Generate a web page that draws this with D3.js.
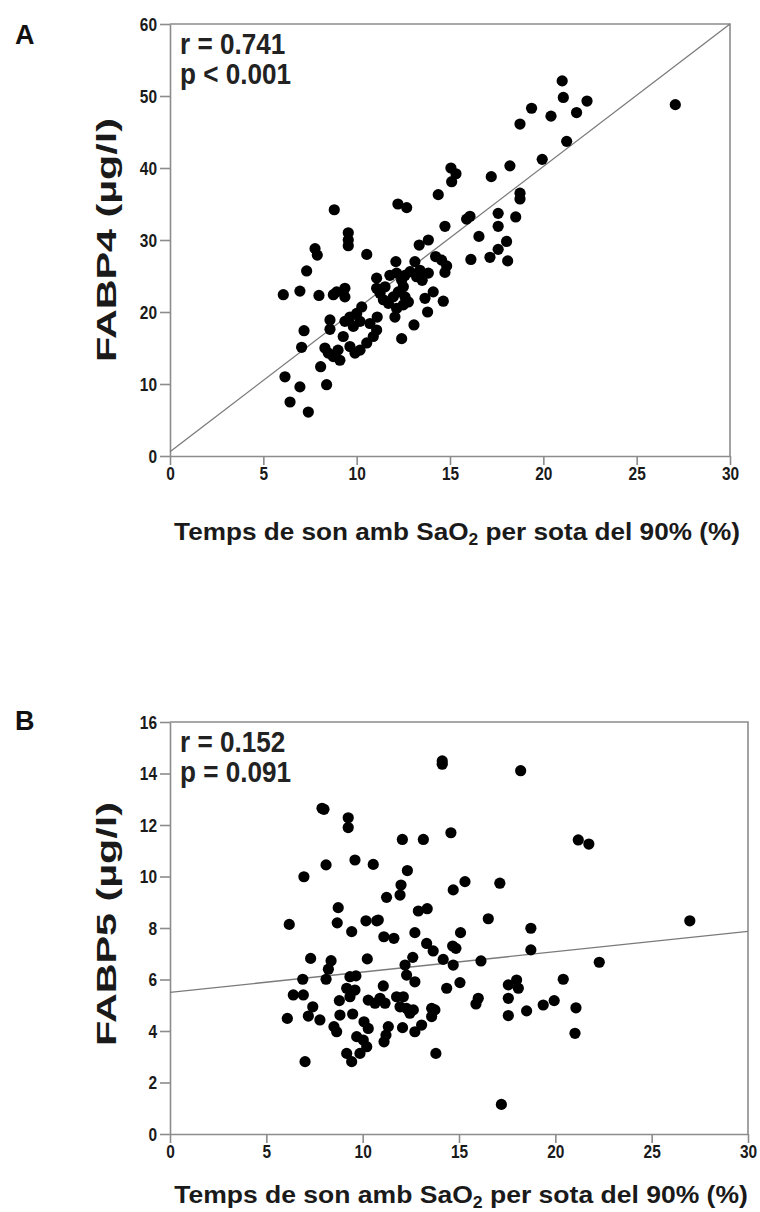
<!DOCTYPE html>
<html>
<head>
<meta charset="utf-8">
<script src="https://cdn.jsdelivr.net/npm/d3@7"></script>
<style>
  html, body { margin: 0; padding: 0; background: #fff; }
  svg { display: block; }
</style>
</head>
<body>
<svg id="chart" width="760" height="1212"></svg>
<script>
// Time of sleep with SaO2 below 90% (%) vs FABP4 (panel A)
const fabp4X = [21.01,21.07,22.34,19.37,20.41,21.78,18.75,27.07,21.25,19.94,18.21,17.21,15.05,15.32,15.09,14.37,18.75,18.75,12.21,12.68,17.58,18.52,16.07,15.89,14.73,17.58,16.55,18.03,13.84,13.35,17.58,16.12,17.14,18.09,14.23,14.55,14.82,14.73,13.12,13.39,13.51,14.1,13.66,14.64,13.8,13.07,12.41,6.07,6.96,7.32,7.77,7.89,9.55,9.55,9.55,10.54,7.98,8.75,8.93,9.37,9.37,8.57,8.57,7.18,7.05,6.16,6.96,6.43,7.41,8.07,8.39,8.8,8.3,8.48,8.75,9.1,9.0,9.28,9.64,9.91,10.18,10.54,10.89,11.07,10.71,10.18,9.82,9.37,9.64,10.0,10.27,11.07,11.78,12.14,12.41,12.59,12.86,13.21,11.07,11.25,11.52,11.43,11.7,11.96,12.23,12.5,12.59,12.77,12.5,12.14,12.05,12.1,11.1,13.84];
const fabp4Y = [52.1,49.8,49.3,48.3,47.2,47.7,46.1,48.8,43.7,41.2,40.3,38.8,40.0,39.2,38.1,36.3,36.5,35.7,35.0,34.5,33.7,33.2,33.3,32.9,31.9,31.9,30.5,29.8,30.0,29.3,28.7,27.3,27.6,27.1,27.7,27.2,26.4,25.5,27.0,25.8,24.4,22.8,21.9,21.5,20.0,18.2,16.3,22.4,22.9,25.7,28.8,27.9,31.0,30.0,29.2,28.0,22.3,22.4,22.8,23.3,22.1,18.9,17.6,17.4,15.1,11.0,9.6,7.5,6.1,12.4,9.9,34.2,15.0,14.3,13.8,13.3,14.7,16.6,15.2,14.3,14.7,15.7,16.6,17.5,18.4,18.7,18.0,18.7,19.3,19.8,20.7,24.7,25.1,25.4,24.4,25.1,25.6,24.9,23.3,22.6,23.5,21.7,21.2,22.1,22.8,23.5,22.1,21.4,21.0,20.5,19.3,27.0,19.3,25.4];

// Time of sleep with SaO2 below 90% (%) vs FABP5 (panel B)
const fabp5X = [6.19,6.95,7.89,7.99,8.1,8.73,8.68,9.43,9.25,9.25,9.6,10.55,10.17,10.73,14.13,14.13,18.2,14.58,12.06,13.15,21.19,21.74,12.32,11.99,11.94,11.24,14.7,15.31,17.12,12.89,13.35,10.81,16.52,26.98,12.71,15.08,18.73,11.1,11.62,7.3,8.36,8.22,8.1,10.24,6.89,6.4,6.92,7.41,6.09,7.18,7.78,7.01,9.34,9.65,9.17,9.6,9.34,8.79,8.82,8.51,8.65,9.48,10.07,10.29,9.69,10.03,10.21,9.86,9.43,9.17,11.07,10.29,10.64,10.9,11.16,11.76,12.11,11.94,12.28,12.45,12.63,11.33,11.21,11.11,12.07,12.71,13.06,13.58,13.75,13.58,13.8,12.2,12.28,12.71,12.6,14.18,14.7,14.36,15.05,16.14,16.0,15.88,13.32,13.66,14.67,14.84,18.73,22.28,17.56,17.99,18.08,17.56,17.56,18.51,19.37,19.94,20.41,21.07,21.02,17.2];
const fabp5Y = [8.14,9.99,12.65,12.61,10.45,8.79,8.2,7.86,12.28,11.9,10.64,10.47,8.28,8.28,14.49,14.36,14.11,11.7,11.44,11.44,11.42,11.26,10.23,9.67,9.28,9.19,9.48,9.8,9.74,8.66,8.75,8.31,8.36,8.28,7.82,7.82,7.99,7.66,7.6,6.82,6.73,6.4,6.01,6.8,6.01,5.4,5.4,4.94,4.49,4.58,4.43,2.81,6.11,6.14,5.66,5.59,5.33,5.18,4.62,4.17,3.97,4.66,4.36,4.1,3.78,3.65,3.39,3.13,2.81,3.13,5.75,5.2,5.08,5.27,5.08,5.33,5.33,4.94,4.88,4.69,4.82,4.17,3.84,3.58,4.13,3.97,4.23,4.88,4.82,4.56,3.13,6.56,6.17,5.91,6.86,6.78,6.56,5.66,5.88,6.72,5.27,5.05,7.4,7.11,7.3,7.21,7.15,6.67,5.79,5.98,5.66,5.27,4.6,4.78,5.01,5.18,6.01,4.9,3.91,1.15];

// Tick values
const xTicks = [0, 5, 10, 15, 20, 25, 30];
const yTicksA = [0, 10, 20, 30, 40, 50, 60];
const yTicksB = [0, 2, 4, 6, 8, 10, 12, 14, 16];

// Fitted regression lines (intercept, slope)
const fitA = [0.6, 1.98];
const fitB = [5.5, 0.079];

// Statistics
const statsA = ["r = 0.741", "p < 0.001"];
const statsB = ["r = 0.152", "p = 0.091"];

const xTitle = ["Temps de son amb SaO", "2", " per sota del 90% (%)"];

const svg = d3.select("#chart");
const SANS = "'Liberation Sans', Arial, Helvetica, sans-serif";
const AXIS_GREY = "#8c8c8c";
const NARROW_K = 0.86; // horizontal squeeze for the condensed tick/stat lettering

function panel(cfg) {
  const g = svg.append("g");
  const x = d3.scaleLinear().domain([0, 30]).range([cfg.left, cfg.right]);
  const y = d3.scaleLinear().domain(cfg.yDomain).range([cfg.bottom, cfg.top]);

  // frame (top and right)
  g.append("path")
    .attr("d", `M${x(0)},${y(cfg.yDomain[1])}H${x(30)}V${y(0)}`)
    .attr("fill", "none").attr("stroke", AXIS_GREY).attr("stroke-width", 1.6);

  // axes
  const yAxis = g.append("g").attr("transform", `translate(${x(0)},0)`)
    .call(d3.axisLeft(y).tickValues(cfg.yTicks).tickSize(10).tickPadding(1).tickSizeOuter(0));
  const xAxis = g.append("g").attr("transform", `translate(0,${y(0)})`)
    .call(d3.axisBottom(x).tickValues(xTicks).tickSize(9).tickPadding(2).tickSizeOuter(0));
  [yAxis, xAxis].forEach(a => {
    a.selectAll("path, line").attr("stroke", AXIS_GREY).attr("stroke-width", 1.6);
    a.selectAll("text").attr("fill", "#1a1a1a").style("font-family", SANS)
      .style("font-weight", "bold").style("font-size", "18px");
  });
  yAxis.selectAll("text").attr("dy", "0.36em")
    .attr("x", -13 / NARROW_K).attr("transform", `scale(${NARROW_K},1)`);
  xAxis.selectAll("text").attr("dy", "0.72em").attr("transform", `scale(${NARROW_K},1)`);

  // regression line
  g.append("line")
    .attr("x1", x(0)).attr("y1", y(cfg.fit[0]))
    .attr("x2", x(30)).attr("y2", y(cfg.fit[0] + cfg.fit[1] * 30))
    .attr("stroke", "#7a7a7a").attr("stroke-width", 1.3);

  // points
  g.append("g").selectAll("circle")
    .data(d3.zip(cfg.xs, cfg.ys))
    .join("circle")
    .attr("cx", d => x(d[0])).attr("cy", d => y(d[1]))
    .attr("r", 5.6).attr("fill", "#000");

  // statistics
  g.append("g").selectAll("text").data(cfg.stats).join("text")
    .attr("transform", (d, i) => `translate(${x(0) + 10},${y(cfg.yDomain[1]) + 30 + i * 30}) scale(${NARROW_K + 0.04},1)`)
    .style("font-family", SANS).style("font-weight", "bold").style("font-size", "29px")
    .attr("fill", "#222")
    .text(d => d);

  // panel letter
  g.append("text").attr("x", 15).attr("y", cfg.letterY)
    .style("font-family", SANS).style("font-weight", "bold").style("font-size", "27px")
    .attr("fill", "#111").text(cfg.letter);

  // y title, stretched to its span
  const yt = g.append("text")
    .attr("text-anchor", "middle")
    .style("font-family", SANS).style("font-weight", "bold").style("font-size", "28px")
    .attr("fill", "#1a1a1a").text(cfg.yTitle);
  const ytw = yt.node().getComputedTextLength();
  yt.attr("transform",
    `translate(${cfg.yTitleX},${cfg.yTitleMid}) rotate(-90) scale(${cfg.yTitleLen / ytw},1)`);

  // x title, stretched to its span
  const t = g.append("text")
    .attr("text-anchor", "middle")
    .style("font-family", SANS).style("font-weight", "bold").style("font-size", "24px")
    .attr("fill", "#1a1a1a");
  t.append("tspan").text(xTitle[0]);
  t.append("tspan").attr("dy", 5).style("font-size", "16px").text(xTitle[1]);
  t.append("tspan").attr("dy", -5).text(xTitle[2]);
  const tw = t.node().getBBox().width;
  t.attr("transform",
    `translate(${cfg.xTitleMid},${cfg.xTitleY}) scale(${cfg.xTitleLen / tw},1)`);
}

panel({
  left: 170, right: 730, top: 24, bottom: 456,
  yDomain: [0, 60], yTicks: yTicksA,
  xs: fabp4X, ys: fabp4Y, fit: fitA, stats: statsA,
  letter: "A", letterY: 44,
  yTitle: "FABP4 (µg/l)", yTitleX: 116, yTitleMid: 240, yTitleLen: 244,
  xTitleMid: 457, xTitleY: 540, xTitleLen: 566
});

panel({
  left: 170, right: 748, top: 722, bottom: 1134,
  yDomain: [0, 16], yTicks: yTicksB,
  xs: fabp5X, ys: fabp5Y, fit: fitB, stats: statsB,
  letter: "B", letterY: 730,
  yTitle: "FABP5 (µg/l)", yTitleX: 116, yTitleMid: 924, yTitleLen: 244,
  xTitleMid: 461, xTitleY: 1203, xTitleLen: 574
});
</script>
</body>
</html>
